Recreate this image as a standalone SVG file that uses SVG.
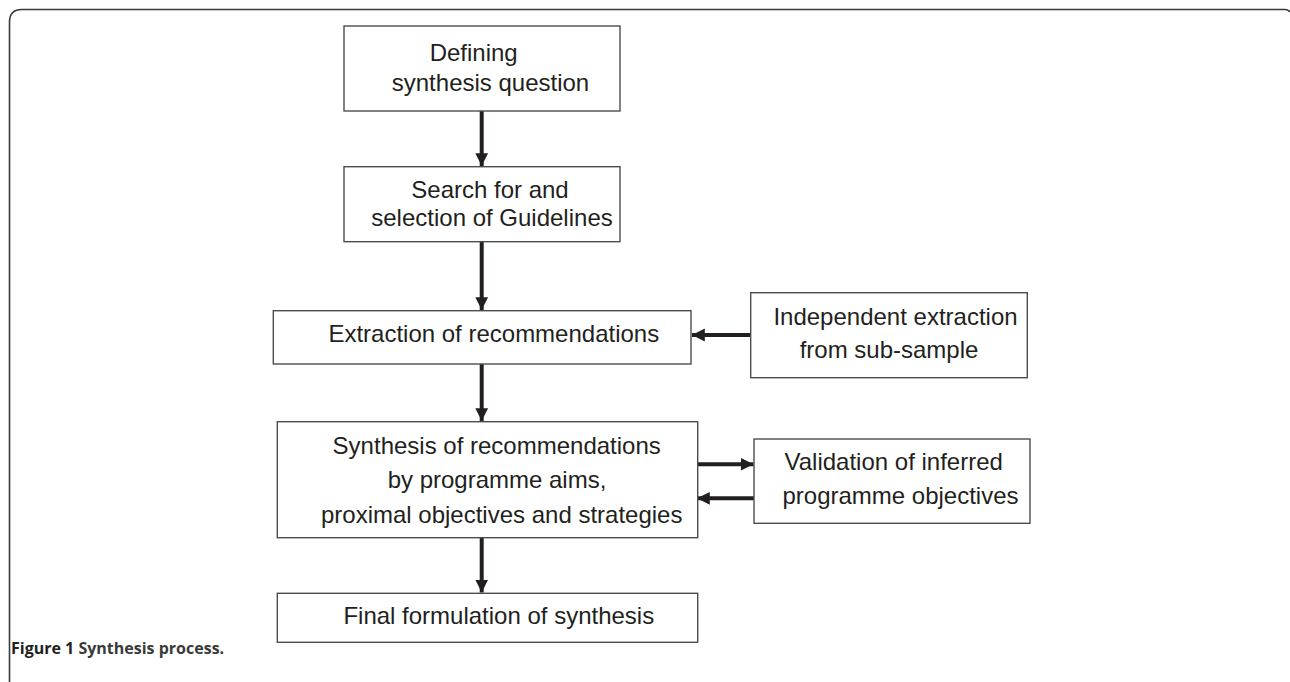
<svg xmlns="http://www.w3.org/2000/svg" width="1290" height="682" viewBox="0 0 1290 682">
<style>
.box{fill:#fff;stroke:#4d4d4d;stroke-width:1.4}
.t{font-family:"Liberation Sans",Arial,sans-serif;font-size:24px;fill:#231f20;text-anchor:middle}
.c{stroke:#231f20;stroke-width:4;fill:none}
.cap{font-family:"Open Sans","DejaVu Sans",sans-serif;font-size:16px;font-weight:bold;fill:#231f20}
</style>
<defs>
<marker id="ah" markerWidth="4" markerHeight="4" refX="3.2" refY="2" orient="auto" markerUnits="strokeWidth">
<path d="M0,0.4 L3.2,2 L0,3.6 Z" fill="#231f20"/>
</marker>
</defs>
<rect width="1290" height="682" fill="#fff"/>
<path id="frame" d="M9.5,690 V22 Q9.5,9.5 22,9.5 H1285 Q1288,9.5 1290,12" fill="none" stroke="#3a3a3a" stroke-width="1.6"/>
<g id="connectors">
<line class="c" x1="481.7" y1="111" x2="481.7" y2="166" marker-end="url(#ah)"/>
<line class="c" x1="481.7" y1="241.7" x2="481.7" y2="310" marker-end="url(#ah)"/>
<line class="c" x1="481.7" y1="364" x2="481.7" y2="421" marker-end="url(#ah)"/>
<line class="c" x1="481.7" y1="537.7" x2="481.7" y2="592.5" marker-end="url(#ah)"/>
<line class="c" x1="750.7" y1="335" x2="692" y2="335" marker-end="url(#ah)"/>
<line class="c" x1="697.7" y1="464.3" x2="753.5" y2="464.3" marker-end="url(#ah)"/>
<line class="c" x1="754" y1="498.3" x2="697" y2="498.3" marker-end="url(#ah)"/>
</g>
<g id="n1">
<rect class="box" x="344" y="26" width="276" height="85"/>
<text class="t" x="473.7" y="61">Defining</text>
<text class="t" x="490.5" y="91">synthesis question</text>
</g>
<g id="n2">
<rect class="box" x="344" y="166.7" width="276" height="75"/>
<text class="t" x="490" y="197.5">Search for and</text>
<text class="t" x="492" y="226">selection of Guidelines</text>
</g>
<g id="n3">
<rect class="box" x="273.3" y="310.7" width="417.7" height="53.3"/>
<text class="t" x="493.8" y="342">Extraction of recommendations</text>
</g>
<g id="n4">
<rect class="box" x="750.7" y="292.7" width="276.6" height="85"/>
<text class="t" x="895.5" y="325">Independent extraction</text>
<text class="t" x="889" y="358">from sub-sample</text>
</g>
<g id="n5">
<rect class="box" x="277.3" y="421.7" width="420.4" height="116"/>
<text class="t" x="496.7" y="454">Synthesis of recommendations</text>
<text class="t" x="497" y="488">by programme aims,</text>
<text class="t" x="501.7" y="523">proximal objectives and strategies</text>
</g>
<g id="n6">
<rect class="box" x="754" y="439" width="276" height="84.3"/>
<text class="t" x="893.7" y="470">Validation of inferred</text>
<text class="t" x="900.5" y="504">programme objectives</text>
</g>
<g id="n7">
<rect class="box" x="277.3" y="593.3" width="420.4" height="49"/>
<text class="t" x="498.8" y="624">Final formulation of synthesis</text>
</g>
<text class="cap" x="11" y="654">Figure 1 <tspan fill="#3a3a3a">Synthesis process.</tspan></text>
</svg>
